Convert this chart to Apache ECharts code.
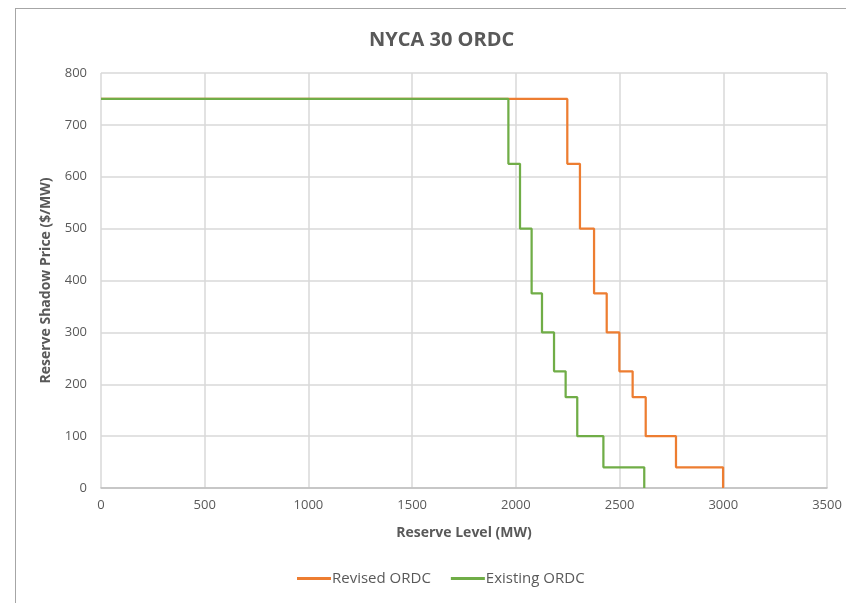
<!DOCTYPE html>
<html>
<head>
<meta charset="utf-8">
<title>NYCA 30 ORDC</title>
<script src="https://cdn.jsdelivr.net/npm/echarts@6/dist/echarts.min.js"></script>
<style>
  html, body { margin: 0; padding: 0; background: #fff; }
  #frame { position: absolute; left: 15px; top: 8px; width: 900px; height: 700px;
           border-left: 1px solid #a6a6a6; border-top: 1px solid #a6a6a6; }
  #main { position: absolute; left: 0; top: 0; width: 846px; height: 603px; }
</style>
</head>
<body>
<div id="frame"></div>
<div id="main"></div>
<script>
// step breakpoints (MW) and price at each step ($/MW)
var revisedMW = [0, 2248, 2309, 2377, 2438, 2499, 2563, 2626, 2772, 2999];
var revisedPrice = [750, 625, 500, 375, 300, 225, 175, 100, 40, 0];
var existingMW = [0, 1964, 2020, 2076, 2126, 2184, 2240, 2296, 2422, 2619];
var existingPrice = [750, 625, 500, 375, 300, 225, 175, 100, 40, 0];

var xTicks = [0, 500, 1000, 1500, 2000, 2500, 3000, 3500];
var yTicks = [0, 100, 200, 300, 400, 500, 600, 700, 800];

function pairs(xs, ys) {
  var out = [];
  for (var i = 0; i < xs.length; i++) out.push([xs[i], ys[i]]);
  return out;
}

var font = '"Open Sans", "Liberation Sans", sans-serif';
var myChart = echarts.init(document.getElementById('main'));

var option = {
  animation: false,
  textStyle: { fontFamily: font },
  title: {
    text: 'NYCA 30 ORDC',
    left: 364,
    top: 25,
    textStyle: { fontFamily: font, fontSize: 20, fontWeight: 'bold', color: '#595959' }
  },
  legend: {
    bottom: 12,
    left: 292,
    itemGap: 20,
    itemWidth: 34,
    itemHeight: 3,
    icon: 'rect',
    textStyle: { fontFamily: font, fontSize: 15, color: '#595959', padding: [0, 0, 0, -4] },
    data: ['Revised ORDC', 'Existing ORDC']
  },
  grid: { left: 101, right: 19, top: 73, bottom: 115 },
  xAxis: {
    type: 'value',
    min: xTicks[0],
    max: xTicks[xTicks.length - 1],
    interval: 500,
    name: 'Reserve Level (MW)',
    nameLocation: 'middle',
    nameGap: 38,
    nameTextStyle: { fontFamily: font, fontSize: 14, fontWeight: 'bold', color: '#595959' },
    axisLine: { show: true, lineStyle: { color: '#bfbfbf', width: 1.5 } },
    axisTick: { show: false },
    axisLabel: { color: '#595959', fontSize: 13, margin: 11, formatter: function (v) { return String(v); } },
    splitLine: { show: true, lineStyle: { color: '#d9d9d9', width: 1.5 } }
  },
  yAxis: {
    type: 'value',
    min: yTicks[0],
    max: yTicks[yTicks.length - 1],
    interval: 100,
    name: 'Reserve Shadow Price ($/MW)',
    nameLocation: 'middle',
    nameGap: 48,
    nameTextStyle: { fontFamily: font, fontSize: 14, fontWeight: 'bold', color: '#595959' },
    axisLine: { show: false },
    axisTick: { show: false },
    axisLabel: { color: '#595959', fontSize: 13, margin: 14 },
    splitLine: { show: true, lineStyle: { color: '#d9d9d9', width: 1.5 } }
  },
  series: [
    {
      name: 'Revised ORDC',
      type: 'line',
      step: 'end',
      symbol: 'none',
      color: '#ED7D31',
      lineStyle: { width: 2.25, color: '#ED7D31' },
      data: pairs(revisedMW, revisedPrice)
    },
    {
      name: 'Existing ORDC',
      type: 'line',
      step: 'end',
      symbol: 'none',
      color: '#70AD47',
      lineStyle: { width: 2.25, color: '#70AD47' },
      data: pairs(existingMW, existingPrice)
    }
  ]
};

myChart.setOption(option);
</script>
</body>
</html>
